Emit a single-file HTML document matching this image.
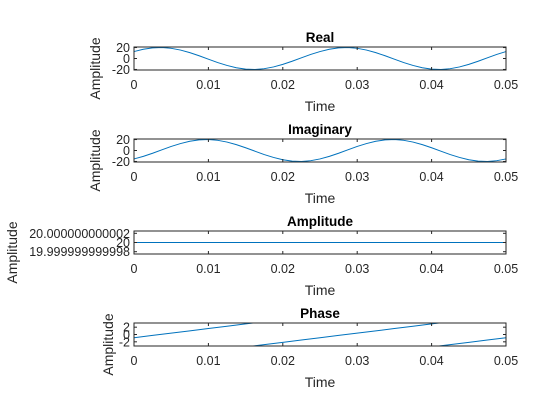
<!DOCTYPE html>
<html><head><meta charset="utf-8"><style>
html,body{margin:0;padding:0;background:#fff;}
svg{display:block;font-family:"Liberation Sans",Arial,sans-serif;}
</style></head><body>
<svg id="fig" width="560" height="420" viewBox="0 0 560 420"></svg>
<script>
// ---- data ----
const timeValues=[0,0.00125,0.0025,0.00375,0.005,0.00625,0.0075,0.00875,0.01,0.01125,0.0125,0.01375,0.015,0.01625,0.0175,0.01875,0.02,0.02125,0.0225,0.02375,0.025,0.02625,0.0275,0.02875,0.03,0.03125,0.0325,0.03375,0.035,0.03625,0.0375,0.03875,0.04,0.04125,0.0425,0.04375,0.045,0.04625,0.0475,0.04875,0.05];
const realValues=[12.7,16.9,19.4,20.0,18.6,15.4,10.7,5.0,-1.2,-7.4,-12.7,-16.9,-19.4,-20,-18.6,-15.4,-10.7,-5.0,1.2,7.4,12.7,16.9,19.4,20.0,18.6,15.4,10.7,5.0,-1.2,-7.4,-12.7,-16.9,-19.4,-20,-18.6,-15.4,-10.7,-5.0,1.2,7.4,12.7];
const imagValues=[-15.4,-10.7,-5.0,1.2,7.4,12.7,16.9,19.4,20.0,18.6,15.4,10.7,5.0,-1.2,-7.4,-12.7,-16.9,-19.4,-20,-18.6,-15.4,-10.7,-5.0,1.2,7.4,12.7,16.9,19.4,20.0,18.6,15.4,10.7,5.0,-1.2,-7.4,-12.7,-16.9,-19.4,-20,-18.6,-15.4];
const ampTimes=[0,0.05];
const ampValues=[20,20];
const phaseTimes=[0,0.0025,0.005,0.0075,0.01,0.0125,0.015,0.016,null,0.016,0.0175,0.02,0.0225,0.025,0.0275,0.03,0.0325,0.035,0.0375,0.04,0.041,null,0.041,0.0425,0.045,0.0475,0.05];
const phaseValues=[-0.88,-0.25,0.38,1.0,1.63,2.26,2.89,3.14,null,-3.14,-2.77,-2.14,-1.51,-0.88,-0.25,0.38,1.0,1.63,2.26,2.89,3.14,null,-3.14,-2.77,-2.14,-1.51,-0.88];
const xTicks=[0,0.01,0.02,0.03,0.04,0.05];
const xTickLabels=["0","0.01","0.02","0.03","0.04","0.05"];
const realTicks=[-20,0,20];
const phaseTicks=[-2,0,2];
const ampTicks=[19.999999999998,20,20.000000000002];
const ampTickLabels=["19.999999999998","20","20.000000000002"];

const NS="http://www.w3.org/2000/svg";
const svg=document.getElementById('fig');
function el(tag,attrs,parent,text){const e=document.createElementNS(NS,tag);for(const k in attrs)e.setAttribute(k,attrs[k]);if(text!==undefined)e.textContent=text;(parent||svg).appendChild(e);return e;}

function panel(name,top,title,ymin,ymax,yTicks,yTickLabels,xs,ys,ylabelX){
  const L=134,R=506,T=top,B=top+23;
  const g=el('g',{});
  
  
  const sx=v=>L+(v-0)/(0.05-0)*(R-L);
  const sy=v=>B-(v-ymin)/(ymax-ymin)*(B-T);
  let d='',pen=false;
  for(let i=0;i<xs.length;i++){
    if(xs[i]===null||ys[i]===null){pen=false;continue;}
    d+=(pen?'L':'M')+sx(xs[i]).toFixed(2)+' '+sy(ys[i]).toFixed(2);pen=true;
  }
  const p=el('path',{d:d,fill:'none',stroke:'#0072bd','stroke-width':1},g);
  
  
  const box=el('rect',{x:L,y:T,width:R-L,height:B-T,fill:'none',stroke:'#262626','stroke-width':1},g);
  
  
  xTicks.forEach((v,i)=>{
    const x=sx(v);
    el('line',{x1:x,y1:B,x2:x,y2:B-3,stroke:'#262626'},g);
    el('line',{x1:x,y1:T,x2:x,y2:T+3,stroke:'#262626'},g);
    const t=el('text',{x:x,y:B+19,'font-size':12.5,fill:'#262626','text-anchor':'middle'},g,xTickLabels[i]);
    
    
  });
  yTicks.forEach((v,i)=>{
    const y=sy(v);
    el('line',{x1:L,y1:y,x2:L+3,y2:y,stroke:'#262626'},g);
    el('line',{x1:R,y1:y,x2:R-3,y2:y,stroke:'#262626'},g);
    const t=el('text',{x:L-4,y:y+4.5,'font-size':12.5,fill:'#262626','text-anchor':'end'},g,yTickLabels[i]);
    
    
  });
  const tt=el('text',{x:(L+R)/2,y:T-5,'font-size':13.5,'font-weight':'bold',fill:'#000','text-anchor':'middle'},g,title);
  
  
  const xl=el('text',{x:(L+R)/2,y:B+41,'font-size':14,fill:'#262626','text-anchor':'middle'},g,'Time');
  
  
  const cy=(T+B)/2+10;
  const yl=el('text',{x:ylabelX,y:cy,'font-size':14,fill:'#262626','text-anchor':'middle',transform:'rotate(-90 '+ylabelX+' '+cy+')'},g,'Amplitude');
  
  
}
panel('real',47,'Real',-21,21,realTicks,realTicks.map(String),timeValues,realValues,100);
panel('imaginary',139,'Imaginary',-21,21,realTicks,realTicks.map(String),timeValues,imagValues,100);
panel('amplitude',231,'Amplitude',19.9999999999975,20.0000000000025,ampTicks,ampTickLabels,ampTimes,ampValues,17);
panel('phase',323,'Phase',-3.1416,3.1416,phaseTicks,phaseTicks.map(String),phaseTimes,phaseValues,113);
</script>
</body></html>
